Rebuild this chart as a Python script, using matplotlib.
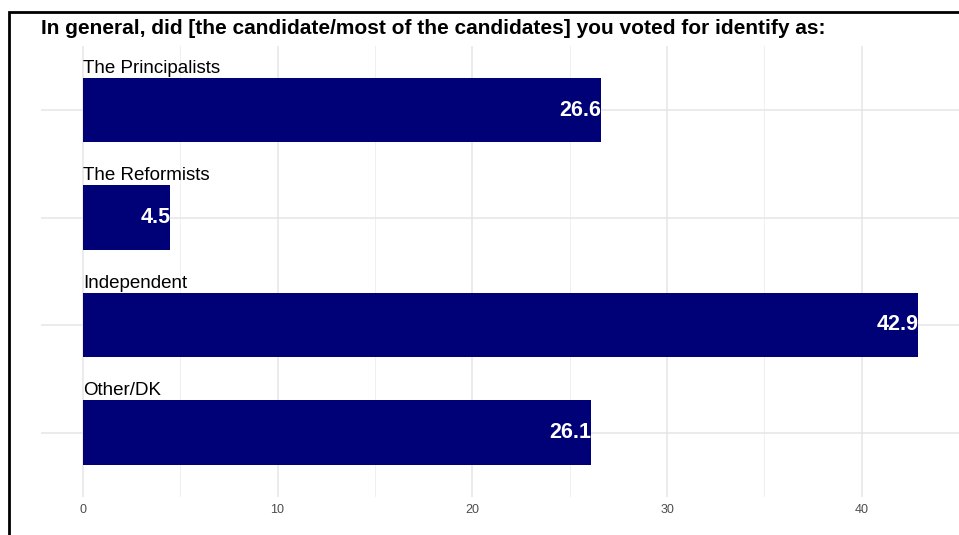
import numpy as np
import matplotlib.pyplot as plt
from matplotlib.patches import Rectangle

categories = ["The Principalists", "The Reformists", "Independent", "Other/DK"]
values = [26.6, 4.5, 42.9, 26.1]
x_ticks = [0, 10, 20, 30, 40]
title = "In general, did [the candidate/most of the candidates] you voted for identify as:"

W, H = 959, 535
fig = plt.figure(figsize=(W / 100, H / 100), dpi=100)
plt.rcParams['font.family'] = ['Liberation Sans', 'DejaVu Sans']

# panel in pixel coords
left, right, top, bottom = 41, 960, 45.5, 497
ax = fig.add_axes([left / W, 1 - bottom / H, (right - left) / W, (bottom - top) / H])

pos = np.arange(len(categories))
ax.barh(pos, values, height=0.6, color="#000077", zorder=3)
for p, v, c in zip(pos, values, categories):
    ax.text(v, p, f"{v}", ha="right", va="center", color="white",
            fontsize=15.5, fontweight="bold", zorder=4)
    ax.text(0, p - 0.31, c, ha="left", va="bottom", color="black",
            fontsize=13.5, zorder=4)

xmax = max(values)
ax.set_xlim(-0.05 * xmax, xmax * 1.05)
ax.set_ylim(len(categories) - 0.4, -0.6)
ax.set_xticks(x_ticks)
ax.set_xticks(np.arange(5, 45, 10), minor=True)
ax.set_yticks(pos)
ax.set_yticklabels([])
ax.tick_params(axis="both", length=0, which="both")
ax.tick_params(axis="x", labelsize=9, labelcolor="#4d4d4d", pad=5)
ax.grid(True, which="major", color="#e5e5e5", linewidth=1.1, zorder=0)
ax.grid(True, which="minor", axis="x", color="#f0f0f0", linewidth=0.7, zorder=0)
for s in ax.spines.values():
    s.set_visible(False)

fig.text(41 / W, 1 - 28 / H, title, ha="left", va="center",
         fontsize=15, fontweight="bold")

# outer frame
fig.patches.append(Rectangle((9 / W, -0.1), 1.2, 1 - 12 / H + 0.1,
                             transform=fig.transFigure, fill=False,
                             edgecolor="black", linewidth=2))

fig.savefig("out.png", dpi=100)
